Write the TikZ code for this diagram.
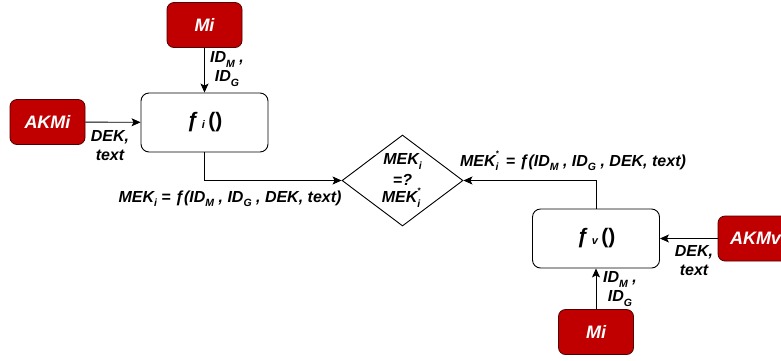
\documentclass[tikz,border=0pt]{standalone}
\usepackage{fontspec}
\setmainfont{Liberation Sans}
\usetikzlibrary{shapes.geometric,arrows.meta}
\definecolor{dred}{RGB}{192,0,0}
\definecolor{dborder}{RGB}{80,0,0}
\newcommand\lsub[1]{\raisebox{-0.28em}{\fontsize{10.5}{10}\selectfont #1}}
\newcommand\subsup[2]{\rlap{\raisebox{-0.28em}{\fontsize{10.5}{10}\selectfont #1}}\raisebox{0.6em}{\fontsize{8}{8}\selectfont #2}\,}
\newcommand\fn{ƒ}
\begin{document}
\begin{tikzpicture}[x=1pt,y=-1pt,
  redbox/.style={draw=dborder, line width=0.8pt, fill=dred, rounded corners=7pt,
    minimum width=75pt, minimum height=45pt, text=white, inner sep=0pt,
    font=\fontsize{18}{20}\selectfont\bfseries\itshape},
  fbox/.style={draw=black, line width=0.9pt, rounded corners=8pt, fill=white,
    minimum width=127pt, minimum height=59pt, inner sep=0pt},
  dia/.style={draw=black, line width=0.9pt, diamond, minimum width=121pt,
    minimum height=91pt, inner sep=0pt},
  lbl/.style={font=\fontsize{16}{19}\selectfont\bfseries\itshape, align=center, inner sep=0pt},
  arr/.style={draw=black, line width=0.9pt, -{Stealth[length=9pt,width=8pt,inset=2pt]}}
]
\useasboundingbox (0,0) rectangle (781,360);
\node[redbox] (mi1) at (204.5,25) {Mi};
\node[redbox] (akmi) at (47.5,122) {AKMi};
\node[fbox] (fi) at (204.5,122.5) {\fontsize{21}{22}\selectfont\bfseries\itshape \fn\,\raisebox{-0.05em}{\fontsize{11}{11}\selectfont i}\,\upshape()};
\node[dia] (dia) at (402.5,180.5) {};
\node[lbl, align=center] (diatext) at (dia.center) {MEK\lsub{i}\\[2pt] =?\\[-2pt] MEK\subsup{i}{*}};
\node[fbox] (fv) at (596,238.5) {\fontsize{21}{22}\selectfont\bfseries\itshape \fn\,\raisebox{-0.05em}{\fontsize{11}{11}\selectfont v}\,\upshape()};
\node[redbox] (akmv) at (755.5,238.5) {AKMv};
\node[redbox] (mi2) at (596,332) {Mi};
\draw[arr] (mi1) -- (fi);
\draw[arr] (akmi) -- (fi);
\draw[arr] (fi.south) |- (dia.west);
\draw[arr] (fv.north) |- (dia.east);
\draw[arr] (akmv) -- (fv);
\draw[arr] (mi2) -- (fv);
\node[lbl] (l1) at (227,69) {ID\lsub{M} ,\\ ID\lsub{G}};
\node[lbl] (l2) at (110,146) {DEK,\\ text};
\node[lbl] (l3) at (230,199) {MEK\lsub{i} = \fn(ID\lsub{M} , ID\lsub{G} , DEK, text)};
\node[lbl] (l4) at (573,161) {MEK\subsup{i}{*} = \fn(ID\lsub{M} , ID\lsub{G} , DEK, text)};
\node[lbl] (l5) at (694,261) {DEK,\\ text};
\node[lbl] (l6) at (620,289) {ID\lsub{M} ,\\ ID\lsub{G}};
\end{tikzpicture}
\end{document}
